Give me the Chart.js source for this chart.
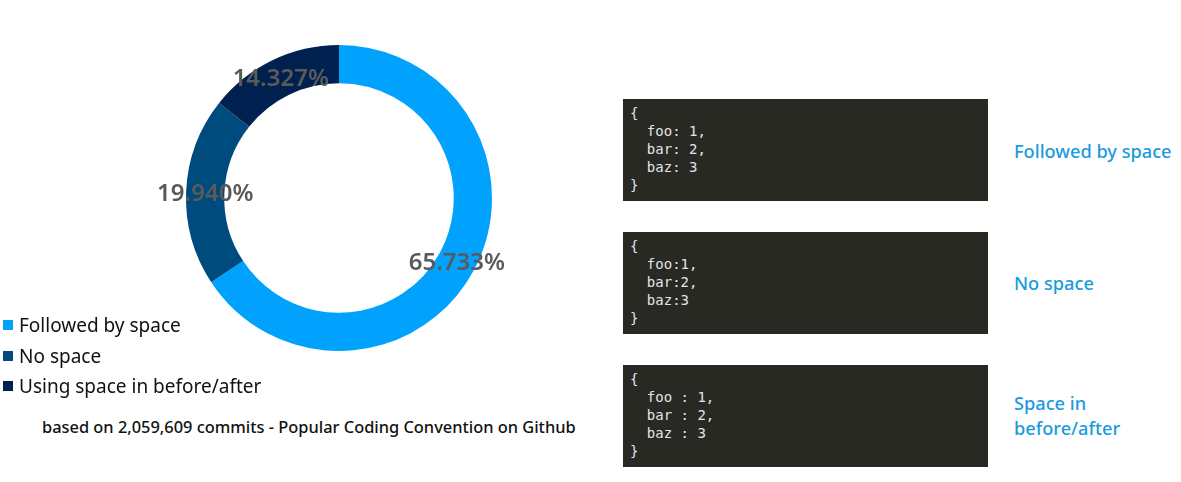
<!DOCTYPE html>
<html>
<head>
<meta charset="utf-8">
<script src="https://cdn.jsdelivr.net/npm/chart.js@4/dist/chart.umd.min.js"></script>
<style>
  html, body { margin:0; padding:0; background:#fff; width:1181px; height:482px; overflow:hidden; font-family:"Noto Sans", "Open Sans", sans-serif; }
  #wrap { position:absolute; left:0; top:0; width:600px; height:400px; }
  .legend { position:absolute; left:3px; top:310px; font-size:19px; color:#111; }
  .legend div { height:30.5px; line-height:22px; display:flex; align-items:center; }
  .legend span.sw { display:inline-block; width:10px; height:10px; margin-right:6px; }
  .caption { position:absolute; left:42px; top:415px; font-size:16.4px; font-weight:500; color:#111; }
  .code { position:absolute; left:623px; width:365px; height:102px; background:#282923; color:#e4e4e4;
          font-family:"DejaVu Sans Mono", monospace; font-size:14px; line-height:18px; box-sizing:border-box; padding:5px 0 0 7px; white-space:pre; }
  .desc { position:absolute; left:1014px; color:#1a9be0; font-size:18.2px; font-weight:500; line-height:25px; }
</style>
</head>
<body>
<div id="wrap"><canvas id="c" width="600" height="400"></canvas></div>
<div class="legend" id="legend"></div>
<div class="caption">based on 2,059,609 commits - Popular Coding Convention on Github</div>
<div class="code" style="top:99px">{
  foo: 1,
  bar: 2,
  baz: 3
}</div>
<div class="code" style="top:232px">{
  foo:1,
  bar:2,
  baz:3
}</div>
<div class="code" style="top:365px">{
  foo : 1,
  bar : 2,
  baz : 3
}</div>
<div class="desc" style="top:139px">Followed by space</div>
<div class="desc" style="top:271px">No space</div>
<div class="desc" style="top:391px">Space in<br>before/after</div>
<script>
const categories = ["Followed by space", "No space", "Using space in before/after"];
const shares = [65.733, 19.940, 14.327];
const colors = ["#00a2fe", "#004b7d", "#00214f"];

const lg = document.getElementById('legend');
categories.forEach((c, i) => {
  const d = document.createElement('div');
  d.innerHTML = '<span class="sw" style="background:' + colors[i] + '"></span>' + c;
  lg.appendChild(d);
});

const labelPlugin = {
  id: 'sliceLabels',
  afterDatasetsDraw(chart) {
    const ctx = chart.ctx;
    const meta = chart.getDatasetMeta(0);
    ctx.save();
    ctx.font = '600 24px "Noto Sans", sans-serif';
    ctx.fillStyle = '#5a5a5a';
    ctx.textAlign = 'center';
    ctx.textBaseline = 'middle';
    meta.data.forEach((arc, i) => {
      const p = arc.tooltipPosition();
      ctx.fillText(shares[i].toFixed(3) + '%', p.x, p.y + 2);
    });
    ctx.restore();
  }
};

new Chart(document.getElementById('c'), {
  type: 'doughnut',
  data: { labels: categories, datasets: [{ data: shares, backgroundColor: colors, borderWidth: 0 }] },
  options: {
    responsive: false, animation: false, cutout: '75%',
    layout: { padding: { left: 186, right: 108, top: 45, bottom: 49 } },
    plugins: { legend: { display: false }, tooltip: { enabled: false } }
  },
  plugins: [labelPlugin]
});
</script>
</body>
</html>
